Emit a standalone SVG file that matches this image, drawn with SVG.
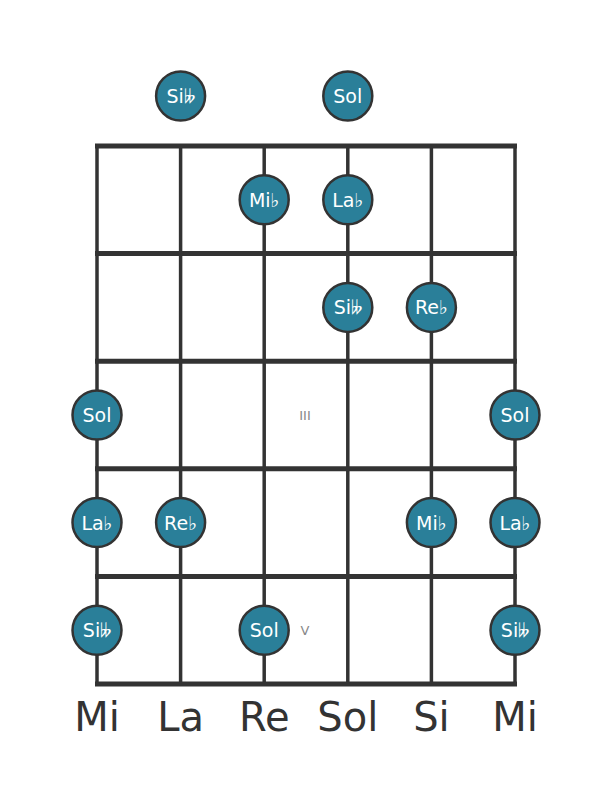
<svg xmlns="http://www.w3.org/2000/svg" width="611" height="801" viewBox="0 0 611 801">
<style>
.bg{fill:#ffffff}
.str{stroke:#333333;stroke-width:3.5;fill:none}
.fret{stroke:#333333;stroke-width:5;fill:none}
.dot{fill:#2a7f99;stroke:#333333;stroke-width:2.5}
.nt{fill:#ffffff;font-family:"DejaVu Sans",sans-serif;font-size:19px;text-anchor:middle;dominant-baseline:central}
.mk{fill:#888888;font-family:"DejaVu Sans",sans-serif;font-size:13px;text-anchor:middle;dominant-baseline:central}
.lbl{fill:#333333;font-family:"DejaVu Sans",sans-serif;font-size:40px;text-anchor:middle}
</style>
<rect class="bg" x="0" y="0" width="611" height="801"/>
<g id="connectors">
<line class="str" x1="97" y1="146" x2="97" y2="684"/>
<line class="str" x1="180.6" y1="146" x2="180.6" y2="684"/>
<line class="str" x1="264.2" y1="146" x2="264.2" y2="684"/>
<line class="str" x1="347.8" y1="146" x2="347.8" y2="684"/>
<line class="str" x1="431.4" y1="146" x2="431.4" y2="684"/>
<line class="str" x1="515" y1="146" x2="515" y2="684"/>
<line class="fret" x1="95" y1="146" x2="517" y2="146"/>
<line class="fret" x1="95" y1="253.6" x2="517" y2="253.6"/>
<line class="fret" x1="95" y1="361.2" x2="517" y2="361.2"/>
<line class="fret" x1="95" y1="468.8" x2="517" y2="468.8"/>
<line class="fret" x1="95" y1="576.4" x2="517" y2="576.4"/>
<line class="fret" x1="95" y1="684" x2="517" y2="684"/>
</g>
<g id="markers">
<text class="mk" x="305" y="415">III</text>
<text class="mk" x="305" y="630">V</text>
</g>
<g id="n0a"><circle class="dot" cx="180.6" cy="96" r="24.5"/><text class="nt" x="180.6" y="96">Si𝄫</text></g>
<g id="n0b"><circle class="dot" cx="347.8" cy="96" r="24.5"/><text class="nt" x="347.8" y="96">Sol</text></g>
<g id="n1a"><circle class="dot" cx="264.2" cy="199.8" r="24.5"/><text class="nt" x="264.2" y="199.8">Mi♭</text></g>
<g id="n1b"><circle class="dot" cx="347.8" cy="199.8" r="24.5"/><text class="nt" x="347.8" y="199.8">La♭</text></g>
<g id="n2a"><circle class="dot" cx="347.8" cy="307.4" r="24.5"/><text class="nt" x="347.8" y="307.4">Si𝄫</text></g>
<g id="n2b"><circle class="dot" cx="431.4" cy="307.4" r="24.5"/><text class="nt" x="431.4" y="307.4">Re♭</text></g>
<g id="n3a"><circle class="dot" cx="97" cy="415" r="24.5"/><text class="nt" x="97" y="415">Sol</text></g>
<g id="n3b"><circle class="dot" cx="515" cy="415" r="24.5"/><text class="nt" x="515" y="415">Sol</text></g>
<g id="n4a"><circle class="dot" cx="97" cy="522.6" r="24.5"/><text class="nt" x="97" y="522.6">La♭</text></g>
<g id="n4b"><circle class="dot" cx="180.6" cy="522.6" r="24.5"/><text class="nt" x="180.6" y="522.6">Re♭</text></g>
<g id="n4c"><circle class="dot" cx="431.4" cy="522.6" r="24.5"/><text class="nt" x="431.4" y="522.6">Mi♭</text></g>
<g id="n4d"><circle class="dot" cx="515" cy="522.6" r="24.5"/><text class="nt" x="515" y="522.6">La♭</text></g>
<g id="n5a"><circle class="dot" cx="97" cy="630.2" r="24.5"/><text class="nt" x="97" y="630.2">Si𝄫</text></g>
<g id="n5b"><circle class="dot" cx="264.2" cy="630.2" r="24.5"/><text class="nt" x="264.2" y="630.2">Sol</text></g>
<g id="n5c"><circle class="dot" cx="515" cy="630.2" r="24.5"/><text class="nt" x="515" y="630.2">Si𝄫</text></g>
<g id="labels">
<text class="lbl" x="97" y="731">Mi</text>
<text class="lbl" x="180.6" y="731">La</text>
<text class="lbl" x="264.2" y="731">Re</text>
<text class="lbl" x="347.8" y="731">Sol</text>
<text class="lbl" x="431.4" y="731">Si</text>
<text class="lbl" x="515" y="731">Mi</text>
</g>
</svg>
